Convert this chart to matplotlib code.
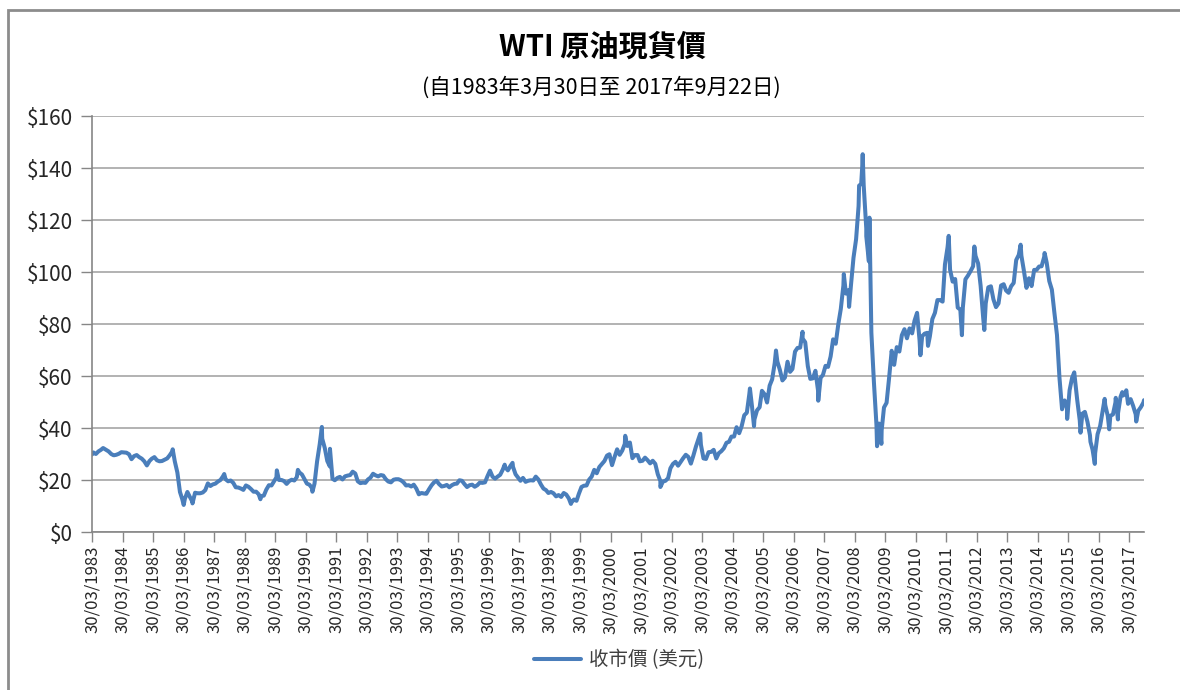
import numpy as np
import matplotlib
matplotlib.use("Agg")
import matplotlib.pyplot as plt
import matplotlib.dates as mdates
from matplotlib.patches import Rectangle
from matplotlib.ticker import FuncFormatter

plt.rcParams['font.family'] = ['Noto Sans CJK TC', 'DejaVu Sans']

# ---------------- data ----------------
title = "WTI 原油現貨價"
subtitle = "(自1983年3月30日至 2017年9月22日)"
series_label = "收市價 (美元)"

start_date = "1983-03-30"
end_date = "2017-09-22"
start_value = 29.8
end_value = 50.7

# monthly closing-price levels (USD), Apr 1983 .. Sep 2017
monthly_start = "1983-04"
monthly_prices = [
    30.6, 30.0, 31.0, 31.6, 32.2, 31.6, 31.0, 30.0, 29.5,                       # 1983 Apr-Dec
    29.7, 30.1, 30.7, 30.6, 30.5, 29.9, 28.0, 29.2, 29.6, 28.8, 28.2, 27.2,     # 1984
    25.6, 27.3, 28.2, 28.8, 27.6, 27.2, 27.3, 27.8, 28.3, 29.5, 31.0, 27.2,     # 1985
    22.9, 15.4, 12.6, 12.8, 15.4, 13.4, 11.6, 15.1, 14.9, 14.9, 15.2, 16.1,     # 1986
    18.7, 17.7, 18.3, 18.6, 19.4, 20.0, 21.4, 20.3, 19.5, 19.8, 18.9, 17.2,     # 1987
    17.1, 16.7, 16.2, 17.9, 17.4, 16.5, 15.5, 15.5, 14.5, 13.8, 14.0, 16.3,     # 1988
    18.0, 17.9, 19.4, 21.0, 20.0, 20.0, 19.6, 18.5, 19.6, 20.1, 19.8, 21.1,     # 1989
    22.9, 22.1, 20.4, 18.6, 18.2, 16.9, 18.6, 27.2, 33.7, 35.9, 32.3, 27.3,     # 1990
    25.2, 20.5, 19.9, 20.8, 21.2, 20.2, 21.4, 21.7, 21.9, 23.2, 22.5, 19.5,     # 1991
    18.8, 19.0, 18.9, 20.2, 20.9, 22.4, 21.8, 21.4, 21.9, 21.7, 20.3, 19.4,     # 1992
    19.1, 20.1, 20.3, 20.3, 19.9, 19.1, 17.9, 18.0, 17.5, 18.2, 16.7, 14.5,     # 1993
    15.0, 14.8, 14.7, 16.4, 17.9, 19.1, 19.7, 18.4, 17.5, 17.7, 18.1, 17.2,     # 1994
    18.0, 18.5, 18.6, 19.9, 19.7, 18.4, 17.3, 18.0, 18.2, 17.4, 18.0, 19.0,     # 1995
    18.9, 19.1, 21.4, 23.6, 21.3, 20.5, 21.3, 22.0, 24.0, 24.9, 23.7, 25.4,     # 1996
    25.1, 22.2, 21.0, 19.7, 20.8, 19.3, 19.7, 19.9, 19.8, 21.3, 20.2, 18.3,     # 1997
    16.7, 16.1, 15.0, 15.4, 14.9, 13.7, 14.2, 13.5, 15.0, 14.4, 12.9, 11.3,     # 1998
    12.5, 12.0, 14.7, 17.3, 17.8, 17.9, 20.1, 21.3, 23.9, 22.6, 25.0, 26.1,     # 1999
    27.3, 29.4, 29.9, 25.7, 28.8, 31.8, 29.7, 31.3, 33.9, 33.1, 34.4, 28.4,     # 2000
    29.6, 29.6, 27.2, 27.4, 28.6, 27.6, 26.4, 27.4, 26.2, 22.2, 19.6, 19.4,     # 2001
    19.7, 20.7, 24.5, 26.2, 27.0, 25.5, 26.9, 28.4, 29.7, 28.9, 26.3, 29.4,     # 2002
    32.9, 35.9, 33.6, 28.3, 28.1, 30.7, 30.8, 31.6, 28.3, 30.3, 31.1, 32.2,     # 2003
    34.3, 34.7, 36.7, 36.7, 40.3, 38.0, 40.7, 44.9, 45.9, 53.1, 48.5, 43.3,     # 2004
    46.8, 48.0, 54.3, 53.0, 49.8, 56.3, 58.7, 65.0, 65.6, 62.4, 58.3, 59.4,     # 2005
    65.5, 61.6, 62.7, 69.4, 70.8, 70.9, 74.4, 73.0, 63.8, 58.9, 59.1, 62.0,     # 2006
    54.5, 59.3, 60.4, 63.9, 63.5, 67.5, 74.1, 72.4, 79.9, 85.8, 94.8, 91.7,     # 2007
    93.0, 95.4, 105.5, 112.6, 125.4, 133.9, 133.4, 116.7, 104.1, 76.6, 57.3, 41.1,  # 2008
    41.7, 39.1, 47.9, 49.7, 59.2, 69.7, 64.3, 71.1, 69.4, 75.7, 78.0, 74.5,     # 2009
    78.3, 76.4, 81.2, 84.3, 73.7, 75.3, 76.3, 76.6, 75.2, 81.9, 84.3, 89.2,     # 2010
    89.2, 88.6, 102.9, 109.5, 100.9, 96.3, 97.3, 86.3, 85.5, 86.3, 97.2, 98.6,  # 2011
    100.3, 102.2, 106.2, 103.3, 94.7, 82.3, 87.9, 94.1, 94.5, 89.5, 86.5, 87.9, # 2012
    94.8, 95.3, 92.9, 92.0, 94.5, 95.8, 104.6, 106.6, 106.3, 100.5, 93.9, 97.6, # 2013
    94.6, 100.8, 100.8, 102.1, 102.2, 105.8, 103.6, 96.5, 93.2, 84.4, 75.8, 59.3,  # 2014
    47.2, 50.6, 47.8, 54.5, 59.3, 59.8, 50.9, 42.9, 45.5, 46.2, 42.4, 37.2,     # 2015
    31.7, 30.3, 37.6, 40.8, 46.7, 48.8, 44.7, 44.7, 45.2, 49.8, 45.7, 52.0,     # 2016
    52.5, 53.5, 49.3, 51.1, 48.5, 45.2, 46.6, 48.0, 49.8,                       # 2017 Jan-Sep
]

# daily highs / lows visible in the chart
extreme_dates = [
    "1983-08-10", "1985-11-20", "1986-04-01", "1986-07-15", "1987-07-30",
    "1988-10-05", "1989-04-20", "1989-12-28", "1990-06-20", "1990-10-11",
    "1991-01-16", "1996-10-08", "1997-01-10", "1998-12-10", "2000-09-20",
    "2001-11-15", "2003-03-07", "2004-10-22", "2004-12-10", "2005-08-30",
    "2006-07-14", "2007-01-18", "2007-11-20", "2008-01-22", "2008-05-21",
    "2008-06-27", "2008-07-03", "2008-08-15", "2008-09-22", "2008-12-22",
    "2009-02-12", "2010-05-25", "2010-08-24", "2011-04-29", "2011-10-04",
    "2012-03-01", "2012-06-28", "2013-09-06", "2014-06-20", "2015-03-17",
    "2015-06-10", "2015-08-24", "2015-12-21", "2016-02-11", "2016-06-08",
    "2016-08-02", "2016-10-19", "2016-11-14", "2017-01-05", "2017-02-22",
    "2017-06-21",
]
extreme_values = [
    32.3, 31.8, 10.4, 11.0, 22.3,
    12.6, 23.7, 23.9, 15.5, 40.4,
    32.0, 25.9, 26.6, 10.8, 37.0,
    17.3, 37.8, 55.2, 40.7, 69.8,
    77.0, 50.5, 99.2, 86.6, 133.2,
    140.2, 145.3, 113.8, 120.9, 33.0,
    33.9, 68.0, 71.6, 113.9, 75.7,
    109.8, 77.7, 110.5, 107.3, 43.5,
    61.4, 38.2, 34.7, 26.2, 51.2,
    39.5, 51.6, 43.3, 53.8, 54.5,
    42.5,
]

y_ticks = [0, 20, 40, 60, 80, 100, 120, 140, 160]
tick_years = list(range(1983, 2018))

# ---------------- build series ----------------
m0 = np.datetime64(monthly_start, 'M')
monthly_dates = (m0 + np.arange(len(monthly_prices))).astype('datetime64[D]') + np.timedelta64(14, 'D')
dates = np.concatenate([
    np.array([start_date], dtype='datetime64[D]'),
    monthly_dates,
    np.array(extreme_dates, dtype='datetime64[D]'),
    np.array([end_date], dtype='datetime64[D]'),
])
values = np.concatenate([[start_value], monthly_prices, extreme_values, [end_value]])
order = np.argsort(dates, kind='stable')
dates = dates[order]
values = values[order]

# ---------------- figure ----------------
W, H = 1180, 690
fig = plt.figure(figsize=(W / 100, H / 100), dpi=100)
fig.patch.set_facecolor('white')

# outer chart border (cropped at right and bottom)
fig.patches.append(Rectangle((8 / W, -0.05), 1.2, 1 - 10 / H + 0.05,
                             transform=fig.transFigure, fill=False,
                             edgecolor='#8c8c8c', linewidth=2.0))

ax = fig.add_axes([92 / W, 1 - 532 / H, (1144 - 92) / W, (532 - 116) / H])

line_color = '#4a7ebb'
ax.plot(dates, values, color=line_color, linewidth=2.9, solid_joinstyle='round',
        solid_capstyle='round', label=series_label)

ax.set_xlim(np.datetime64(start_date), np.datetime64(end_date))
ax.set_ylim(0, 160)

ax.set_yticks(y_ticks)
ax.yaxis.set_major_formatter(FuncFormatter(lambda v, p: f"${int(v)}"))
ax.set_xticks([np.datetime64(f"{y}-03-30") for y in tick_years])
ax.xaxis.set_major_formatter(mdates.DateFormatter('%d/%m/%Y'))

for lab in ax.get_xticklabels():
    lab.set_rotation(90)

ax.tick_params(axis='y', direction='out', length=8, width=1, color='#868686',
               labelsize=15, labelcolor='#262626', pad=6)
ax.tick_params(axis='x', direction='out', length=7, width=1, color='#868686',
               labelsize=12, labelcolor='#262626', pad=3)

ax.grid(axis='y', color='#a6a6a6', linewidth=1.2)
ax.set_axisbelow(True)
for s in ['top', 'right']:
    ax.spines[s].set_visible(False)
for s in ['left', 'bottom']:
    ax.spines[s].set_color('#868686')
    ax.spines[s].set_linewidth(1.2)

fig.text(602 / W, 1 - 47 / H, title, ha='center', va='center',
         fontsize=21, fontweight='bold', color='#000000')
fig.text(601 / W, 1 - 88 / H, subtitle, ha='center', va='center',
         fontsize=15.5, color='#000000')

leg = ax.legend(loc='center', bbox_to_anchor=(619 / W, 1 - 660 / H),
                bbox_transform=fig.transFigure, frameon=False, fontsize=14,
                handlelength=2.4, handletextpad=0.4)
for t in leg.get_texts():
    t.set_color('#404040')

fig.savefig('out.png', dpi=100)
